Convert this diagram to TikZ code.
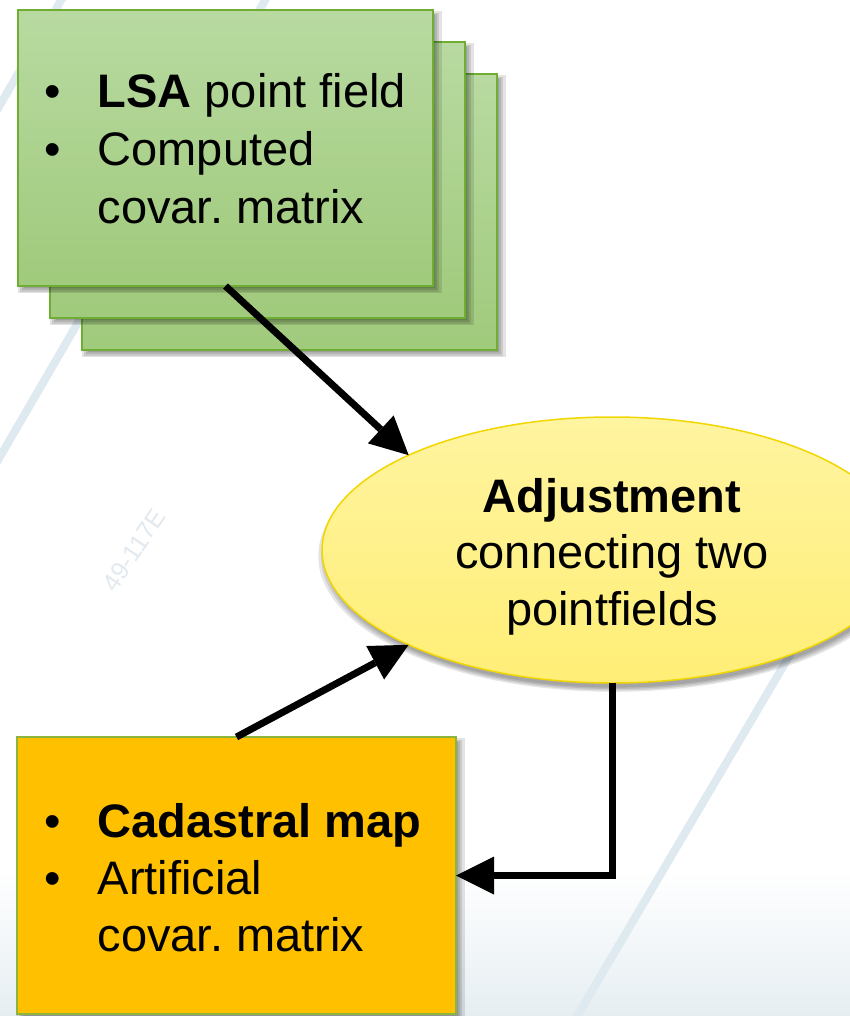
\documentclass[tikz,border=0pt]{standalone}
\usepackage{fontspec}
\setmainfont{Liberation Sans}
\newfontfamily\wmfont{Liberation Sans}
\usetikzlibrary{arrows.meta,shapes.geometric,shadows}
\frenchspacing
\definecolor{gtop}{HTML}{B8DAA1}
\definecolor{gbot}{HTML}{A0CA7C}
\definecolor{gedge}{HTML}{6FAE33}
\definecolor{ytop}{HTML}{FFF4A0}
\definecolor{ybot}{HTML}{FFEE76}
\definecolor{yedge}{HTML}{F2D600}
\definecolor{ofill}{HTML}{FFC000}
\definecolor{oedge}{HTML}{8DB43C}
\definecolor{bgline}{HTML}{DEEAF0}
\definecolor{bgbot}{HTML}{E6EEF2}
\definecolor{wmark}{HTML}{E2E9EF}
\tikzset{
  sshadow/.style={
    general shadow={fill=black,opacity=.11,shadow xshift=4pt,shadow yshift=-4pt,shadow scale=1.022},
    general shadow={fill=black,opacity=.11,shadow xshift=4pt,shadow yshift=-4pt,shadow scale=1.011},
    general shadow={fill=black,opacity=.11,shadow xshift=4pt,shadow yshift=-4pt},
    general shadow={fill=black,opacity=.11,shadow xshift=4pt,shadow yshift=-4pt,shadow scale=0.989},
    general shadow={fill=black,opacity=.11,shadow xshift=4pt,shadow yshift=-4pt,shadow scale=0.978}},
  eshadow/.style={
    general shadow={fill=black,opacity=.1,shadow xshift=2pt,shadow yshift=-6pt,shadow scale=1.02},
    general shadow={fill=black,opacity=.1,shadow xshift=2pt,shadow yshift=-6pt,shadow scale=1.01},
    general shadow={fill=black,opacity=.1,shadow xshift=2pt,shadow yshift=-6pt},
    general shadow={fill=black,opacity=.1,shadow xshift=2pt,shadow yshift=-6pt,shadow scale=0.99}},
  gbox/.style={rectangle, draw=gedge, line width=1.5pt, top color=gtop, bottom color=gbot,
    minimum width=415pt, minimum height=276pt, inner sep=0pt, outer sep=0pt, anchor=north west, sshadow},
  obox/.style={rectangle, draw=oedge, line width=1.5pt, fill=ofill,
    minimum width=439pt, minimum height=277pt, inner sep=0pt, outer sep=0pt, anchor=north west, sshadow},
  ebox/.style={ellipse, draw=yedge, line width=1.5pt, top color=ytop, bottom color=ybot,
    minimum width=580pt, minimum height=266pt, inner sep=0pt, outer sep=0pt, eshadow},
  txt/.style={inner sep=0pt, anchor=base west, font=\fontsize{47}{57}\selectfont},
  ctxt/.style={inner sep=0pt, anchor=base, font=\fontsize{47}{57}\selectfont},
  bgstroke/.style={draw=bgline, line width=8pt},
  conn/.style={line width=7pt, draw=black, -{Triangle[length=38pt,width=38pt,line width=0pt]}}
}
\begin{document}
\begin{tikzpicture}[x=1pt,y=-1pt]
\useasboundingbox (0,0) rectangle (850,1016);
\clip (0,0) rectangle (850,1016);
\fill[white] (0,0) rectangle (850,1016);
\shade[top color=white, bottom color=bgbot] (0,870) rectangle (850,1016);
% background strokes
\coordinate (la1) at (-10,474); \coordinate (la2) at (271,-10);
\coordinate (lb1) at (-10,122); \coordinate (lb2) at (67,-10);
\coordinate (lc1) at (570,1028); \coordinate (lc2) at (860,536);
\draw[bgstroke] (la1) -- (la2);
\draw[bgstroke] (lb1) -- (lb2);
\draw[bgstroke] (lc1) -- (lc2);
\node[text=wmark, rotate=56, inner sep=0pt, font=\wmfont\fontsize{25}{25}\selectfont] (wm) at (134,550) {49-117E};
% green stack
\node[gbox] (lsa3) at (82,74) {};
\node[gbox] (lsa2) at (50,42) {};
\node[gbox] (lsa) at (18,10) {};
% ellipse
\node[ebox] (ell) at (612,550) {};
% orange box
\node[obox] (cad) at (17,737) {};
% texts green
\node[txt] (gb1) at (44,108) {•};
\node[txt] (gl1) at (97.5,108) {\textbf{LSA} point field};
\node[txt] (gb2) at (44,166) {•};
\node[txt] (gl2) at (97.5,166) {Computed};
\node[txt] (gl3) at (97.5,223) {covar. matrix};
% texts ellipse
\node[ctxt] (el1) at (612,512) {\textbf{Adjustment}};
\node[ctxt] (el2) at (612,568) {connecting two};
\node[ctxt] (el3) at (612,625) {pointfields};
% texts orange
\node[txt] (ob1) at (44,837) {•};
\node[txt] (ol1) at (97.5,837) {\textbf{Cadastral map}};
\node[txt] (ob2) at (44,894) {•};
\node[txt] (ol2) at (97.5,894) {Artificial};
\node[txt] (ol3) at (97.5,951) {covar. matrix};
% connectors
\draw[conn] (lsa.south) -- (ell.155);
\draw[conn] (cad.north) -- (ell.205);
\draw[conn] (ell.south) |- (cad.east);
\end{tikzpicture}
\end{document}
